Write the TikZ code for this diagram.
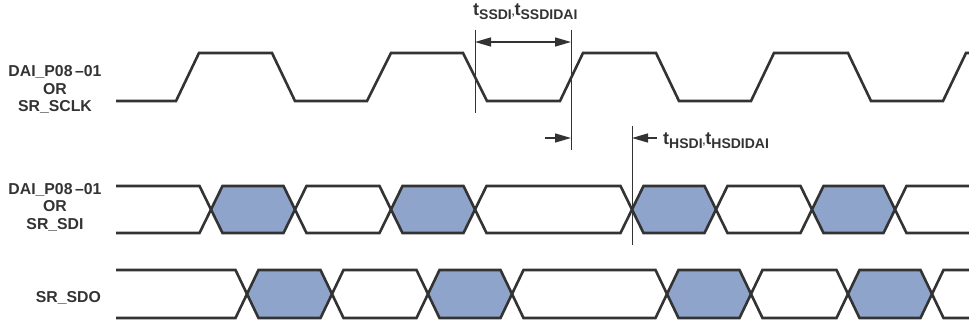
\documentclass[tikz,border=0pt]{standalone}
\usepackage{fontspec}
\setmainfont{Liberation Sans}
\usetikzlibrary{arrows.meta}
\definecolor{ink}{HTML}{333333}
\definecolor{bus}{HTML}{8EA4CB}
\newcommand{\tlab}[1]{{\fontsize{18}{18}\selectfont t}\raisebox{-4pt}{\fontsize{14}{14}\selectfont #1}}
\begin{document}
\begin{tikzpicture}[x=1pt,y=-1pt,
  wave/.style={draw=ink,line width=2.6pt,line join=miter},
  busfill/.style={fill=bus},
  tline/.style={draw=ink,line width=1pt},
  dim/.style={draw=ink,line width=1.4pt},
  tip/.style={-{Triangle[length=16pt,width=9pt]}},
  sig/.style={font=\bfseries\fontsize{15.8}{17.5}\selectfont,text=ink,align=center,inner sep=0pt},
  tl/.style={font=\bfseries,text=ink,inner sep=0pt}]
\useasboundingbox (0,0) rectangle (969,326);

% clock
\draw[wave] (116,101) -- (176,101) -- (199,53) -- (272,53) -- (295,101) -- (367,101) -- (391,53) -- (463,53) -- (487,101) -- (560,101) -- (583,53) -- (656,53) -- (679,101) -- (751,101) -- (774,53) -- (848,53) -- (871,101) -- (943,101) -- (966,53) -- (972,53);

% SDI fills
\foreach \a/\b in {211/295,391/475,632/716,812/895}
  \fill[bus] (\a,209.5) -- (\a+11.5,186) -- (\b-11.5,186) -- (\b,209.5) -- (\b-11.5,233) -- (\a+11.5,233) -- cycle;
\draw[wave] (116,186) -- (199.5,186) -- (222.5,233) -- (283.5,233) -- (306.5,186) -- (379.5,186) -- (402.5,233) -- (463.5,233) -- (486.5,186) -- (620.5,186) -- (643.5,233) -- (704.5,233) -- (727.5,186) -- (800.5,186) -- (823.5,233) -- (883.5,233) -- (906.5,186) -- (972,186);
\draw[wave] (116,233) -- (199.5,233) -- (222.5,186) -- (283.5,186) -- (306.5,233) -- (379.5,233) -- (402.5,186) -- (463.5,186) -- (486.5,233) -- (620.5,233) -- (643.5,186) -- (704.5,186) -- (727.5,233) -- (800.5,233) -- (823.5,186) -- (883.5,186) -- (906.5,233) -- (972,233);

% SDO fills
\foreach \a/\b in {247/332,428/512,667/751,848/932}
  \fill[bus] (\a,294) -- (\a+11.5,270) -- (\b-11.5,270) -- (\b,294) -- (\b-11.5,318) -- (\a+11.5,318) -- cycle;
\draw[wave] (116,270) -- (235.5,270) -- (258.5,318) -- (320.5,318) -- (343.5,270) -- (416.5,270) -- (439.5,318) -- (500.5,318) -- (523.5,270) -- (655.5,270) -- (678.5,318) -- (739.5,318) -- (762.5,270) -- (836.5,270) -- (859.5,318) -- (920.5,318) -- (943.5,270) -- (972,270);
\draw[wave] (116,318) -- (235.5,318) -- (258.5,270) -- (320.5,270) -- (343.5,318) -- (416.5,318) -- (439.5,270) -- (500.5,270) -- (523.5,318) -- (655.5,318) -- (678.5,270) -- (739.5,270) -- (762.5,318) -- (836.5,318) -- (859.5,270) -- (920.5,270) -- (943.5,318) -- (972,318);

% timing reference lines
\coordinate (s1t) at (475,30);  \coordinate (s1b) at (475,113);
\coordinate (s2t) at (571,30);  \coordinate (s2b) at (571,150);
\coordinate (h1t) at (632,126); \coordinate (h1b) at (632,245);
\draw[tline] (s1t) -- (s1b);
\draw[tline] (s2t) -- (s2b);
\draw[tline] (h1t) -- (h1b);

% dimension arrows
\coordinate (d1) at (475,42); \coordinate (d2) at (571,42);
\draw[dim,{Triangle[length=16pt,width=9pt]}-{Triangle[length=16pt,width=9pt]}] (d1) -- (d2);
\coordinate (r0) at (545,138); \coordinate (r1) at (571,138);
\draw[dim,tip] (r0) -- (r1);
\coordinate (l0) at (657,138); \coordinate (l1) at (632,138);
\draw[dim,tip] (l0) -- (l1);

% labels
\node[sig] (clk) at (55,89.5) {DAI\_P08\,–01\\OR\\SR\_SCLK};
\node[sig] (sdi) at (55,207) {DAI\_P08\,–01\\OR\\SR\_SDI};
\node[sig,anchor=east] (sdo) at (101,298) {SR\_SDO};
\node[tl,anchor=base west] (ts) at (473,16) {\tlab{SSDI},\tlab{SSDIDAI}};
\node[tl,anchor=base west] (th) at (663,145) {\tlab{HSDI},\tlab{HSDIDAI}};
\end{tikzpicture}
\end{document}
